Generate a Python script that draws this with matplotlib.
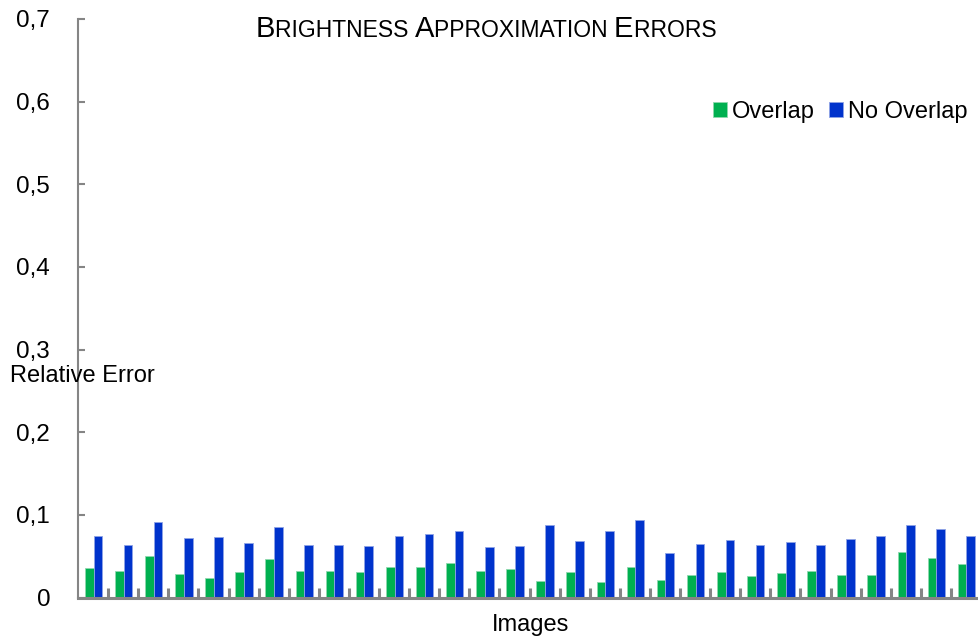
import matplotlib
matplotlib.use("Agg")
import matplotlib.pyplot as plt
import numpy as np
from matplotlib.offsetbox import TextArea, HPacker, AnchoredOffsetbox

plt.rcParams['font.family'] = ['Liberation Sans', 'DejaVu Sans']

# relative error per image, with and without overlap
overlap = [0.036, 0.032, 0.050, 0.028, 0.023, 0.031, 0.047, 0.032, 0.032, 0.031,
           0.037, 0.037, 0.042, 0.032, 0.034, 0.020, 0.031, 0.019, 0.037, 0.021,
           0.027, 0.031, 0.026, 0.030, 0.032, 0.027, 0.027, 0.055, 0.048, 0.041]
no_overlap = [0.074, 0.064, 0.091, 0.072, 0.073, 0.066, 0.085, 0.064, 0.064, 0.062,
              0.075, 0.077, 0.081, 0.061, 0.062, 0.088, 0.068, 0.080, 0.094, 0.054,
              0.065, 0.069, 0.063, 0.067, 0.063, 0.071, 0.075, 0.088, 0.083, 0.075]
yticks = [0, 0.1, 0.2, 0.3, 0.4, 0.5, 0.6, 0.7]
ytick_labels = ['0', '0,1', '0,2', '0,3', '0,4', '0,5', '0,6', '0,7']

green = '#00b050'
blue = '#0033cc'
axis_grey = '#858585'

fig = plt.figure(figsize=(9.79, 6.44), dpi=100)
ax = fig.add_axes([0.0797, 0.0722, 0.9224, 0.8983])

n = len(overlap)
x = np.arange(n) + 0.515
w = 0.29
ax.bar(x - w / 2, overlap, w, color=green, edgecolor='#8fd9ae', linewidth=0.6, label='Overlap')
ax.bar(x + w / 2, no_overlap, w, color=blue, edgecolor='#8fa3e6', linewidth=0.6, label='No Overlap')

ax.set_xlim(0, n)
ax.set_ylim(0, 0.7)
ax.set_yticks(yticks)
ax.set_yticklabels(ytick_labels, fontsize=17.5)
ax.tick_params(axis='y', direction='in', length=5, width=1.5, color=axis_grey, pad=20)

# small separators between the image groups
ax.set_xticks([])
ax.set_xticks(np.arange(1, n + 1), minor=True)
ax.tick_params(axis='x', which='minor', direction='in', length=7, width=2.2, color=axis_grey)

for side in ['top', 'right']:
    ax.spines[side].set_visible(False)
ax.spines['left'].set_color(axis_grey)
ax.spines['left'].set_linewidth(1.5)
ax.spines['bottom'].set_color(axis_grey)
ax.spines['bottom'].set_linewidth(2.2)

fig.text(10 / 979, 1 - 376 / 644, 'Relative Error', fontsize=17, ha='left', va='center')
fig.text(531 / 979, 1 - 625 / 644, 'Images', fontsize=17, ha='center', va='center')

leg = ax.legend(loc='upper right', bbox_to_anchor=(0.995, 0.875), frameon=False, ncol=2,
                fontsize=17, handlelength=0.6, handleheight=0.6, handletextpad=0.2,
                columnspacing=0.6, borderaxespad=0)

# title in small caps
parts = []
for word in ['Brightness', 'Approximation', 'Errors']:
    parts.append(TextArea(word[0], textprops=dict(fontsize=21)))
    parts.append(TextArea(word[1:].upper() + ' ', textprops=dict(fontsize=16.5)))
title = HPacker(children=parts, align='baseline', pad=0, sep=0)
anchored = AnchoredOffsetbox(loc='center', child=title, frameon=False, pad=0,
                             bbox_to_anchor=(489 / 979, 1 - 29 / 644),
                             bbox_transform=fig.transFigure, borderpad=0)
fig.add_artist(anchored)

fig.savefig('out.png', dpi=100)
